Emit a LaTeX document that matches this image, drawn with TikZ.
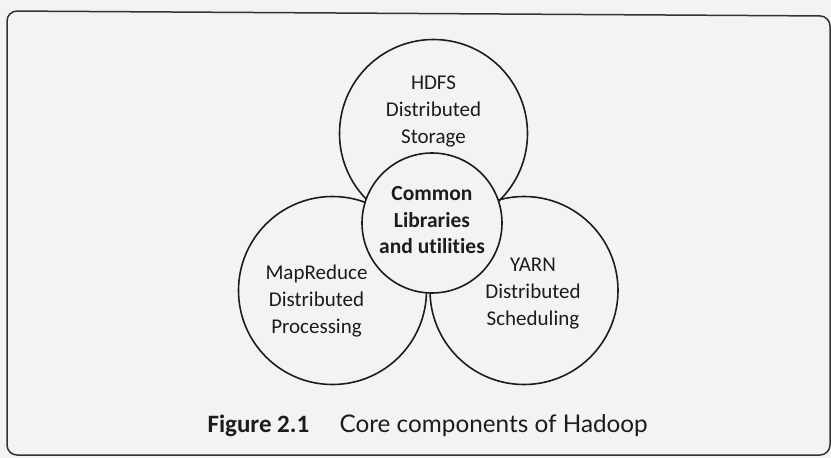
\documentclass[tikz,border=0pt]{standalone}
\usepackage{fontspec}
\setmainfont{Carlito}[Ligatures=NoCommon]
\newfontfamily\capfont{Lato}
\usetikzlibrary{positioning,calc}
\definecolor{paper}{HTML}{F3F3F1}
\definecolor{ink}{HTML}{1C1C1C}

\begin{document}
\begin{tikzpicture}[x=1pt, y=-1pt,
      partcircle/.style={draw=ink, line width=1.6pt, circle, minimum size=188pt, inner sep=0pt},
      hubcircle/.style={draw=ink, line width=1.6pt, circle, fill=paper, minimum size=140pt, inner sep=0pt},
      parttext/.style={align=center, text=ink, font=\fontsize{21}{27}\selectfont},
      hubtext/.style={align=center, text=ink, font=\fontsize{21.5}{26.5}\selectfont\bfseries},
      frame/.style={draw=ink!90, line width=1.5pt, rounded corners=10pt}
    ]
    \fill[paper] (0,0) rectangle (831,458);
    \useasboundingbox (0,0) rectangle (831,458);
    \draw[frame] (7,11) -- (830,16) -- (830,455) -- (7,455) -- cycle;
    % the three parts, then the common core on top
    \node[partcircle] (hdfs) at (433.5,133.5) {};
    \node[partcircle] (mapred) at (332.5,290.5) {};
    \node[partcircle] (yarn) at (524,290.5) {};
    \node[hubcircle] (common) at (432,223) {};
    \node[parttext, yshift=22pt] (hdfstxt) at (hdfs) {HDFS\\Distributed\\Storage};
    \node[parttext, xshift=-16pt, yshift=-10.5pt] (mapredtxt) at (mapred) {MapReduce\\Distributed\\Processing};
    \node[parttext, xshift=9pt, yshift=-3pt] (yarntxt) at (yarn) {YARN\\Distributed\\Scheduling};
    \node[hubtext, yshift=2.5pt] (commontxt) at (common) {Common\\Libraries\\and utilities};
    % caption
    \node[anchor=base west, text=ink, font=\fontsize{25}{30}\selectfont\bfseries] (figlabel) at (204,432) {Figure 2.1};
    \node[anchor=base west, text=ink, font=\capfont\fontsize{24.3}{29}\selectfont] (figtitle) at (336,432) {Core components of Hadoop};
  \end{tikzpicture}
\end{document}
